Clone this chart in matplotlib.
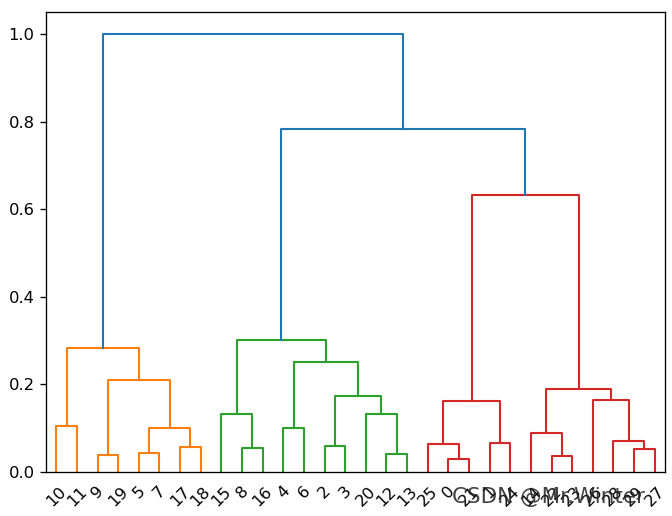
import matplotlib
matplotlib.use("Agg")
import matplotlib.pyplot as plt

# linkage (scipy style): observations 0..29, new clusters numbered from 30
link_a = [10, 9, 5, 17, 32, 31, 30,
          8, 15, 4, 2, 12, 20, 40, 39, 38,
          0, 25, 1, 47, 22, 14, 29, 28, 26, 51, 49,
          45, 36]
link_b = [11, 19, 7, 18, 33, 34, 35,
          16, 37, 6, 3, 13, 41, 42, 43, 44,
          21, 46, 24, 48, 23, 50, 27, 52, 53, 54, 55,
          56, 57]
link_h = [0.105, 0.039, 0.043, 0.057, 0.100, 0.209, 0.282,
          0.055, 0.132, 0.100, 0.059, 0.041, 0.132, 0.173, 0.250, 0.302,
          0.030, 0.064, 0.066, 0.161, 0.036, 0.088, 0.052, 0.071, 0.164, 0.189, 0.632,
          0.782, 1.000]

n_obs = 30
threshold = 0.7 * max(link_h)
palette = ['C1', 'C2', 'C3', 'C4']
above_color = 'C0'

# the reference looks rendered about 1.18x larger than default
k = 1.18
plt.rcParams['font.size'] = 10 * k
plt.rcParams['xtick.major.size'] = 3.5 * k
plt.rcParams['ytick.major.size'] = 3.5 * k
plt.rcParams['xtick.major.pad'] = 3.5 * k
plt.rcParams['ytick.major.pad'] = 3.5 * k
plt.rcParams['xtick.major.width'] = 0.8 * k
plt.rcParams['ytick.major.width'] = 0.8 * k
plt.rcParams['axes.linewidth'] = 0.8 * k

leaf_order = []
segments = []  # (xs, ys, color)


def walk(node, group_color=None):
    """return (x, height) of node, record segments"""
    if node < n_obs:
        x = 5 + 10 * len(leaf_order)
        leaf_order.append(node)
        return x, 0.0
    i = node - n_obs
    h = link_h[i]
    if h < threshold and group_color is None:
        group_color = palette[walk.count % len(palette)]
        walk.count += 1
    color = group_color if h < threshold else above_color
    xl, hl = walk(link_a[i], group_color if h < threshold else None)
    xr, hr = walk(link_b[i], group_color if h < threshold else None)
    segments.append(([xl, xl, xr, xr], [hl, h, h, hr], color))
    return (xl + xr) / 2, h


walk.count = 0
walk(n_obs + len(link_h) - 1)

fig = plt.figure(figsize=(6.72, 5.16), dpi=100)
ax = fig.add_axes([46 / 672, 1 - 472 / 516, (665 - 46) / 672, (472 - 12) / 516])

for xs, ys, c in segments:
    ax.plot(xs, ys, color=c, linewidth=1.5)

ax.set_xlim(0, 10 * n_obs)
ax.set_ylim(0, max(link_h) * 1.05)
ax.set_xticks([5 + 10 * k2 for k2 in range(n_obs)])
ax.set_xticklabels([str(v) for v in leaf_order], rotation=45, size=10 * k)
# tick marks hidden (they would cover the links), padding kept
for line in ax.get_xticklines():
    line.set_visible(False)

fig.text(548 / 672, 1 - 497 / 516, 'CSDN @Mr.Winter', ha='center', va='center',
         fontsize=15.5, color='#222222', alpha=0.85)

fig.savefig('out.png', dpi=100)
